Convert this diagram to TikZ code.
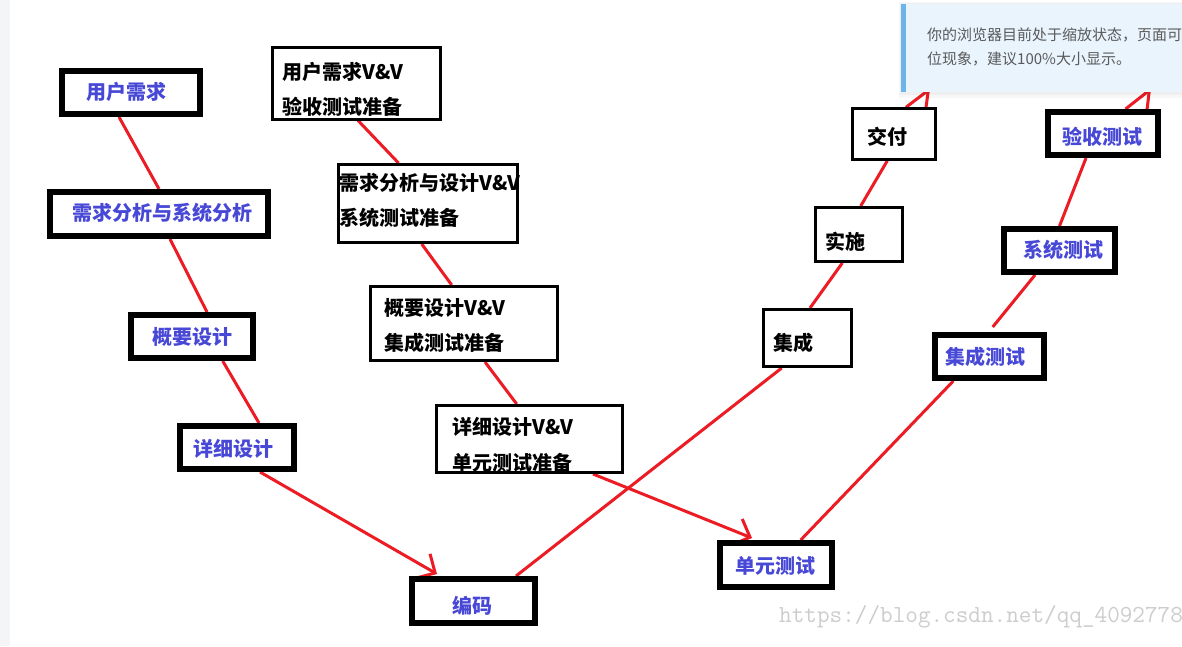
\documentclass[tikz,border=0pt]{standalone}
\usepackage{fontspec}
\setmainfont{Noto Sans CJK SC}
\usetikzlibrary{arrows.meta}
\definecolor{vred}{RGB}{237,28,36}
\definecolor{vblue}{RGB}{72,72,215}
\definecolor{notebg}{RGB}{233,244,253}
\definecolor{notebar}{RGB}{110,179,234}
\definecolor{notetxt}{RGB}{90,90,90}
\definecolor{wmark}{RGB}{205,205,205}
\definecolor{stripgray}{RGB}{244,245,247}
\pgfdeclarelayer{back}
\pgfdeclarelayer{lines}
\pgfsetlayers{back,lines,main}
\tikzset{
  thickbox/.style={draw=black, line width=6pt, fill=white, inner sep=0pt, rectangle},
  thinbox/.style={draw=black, line width=3pt, fill=white, inner sep=0pt, rectangle},
  bluelabel/.style={text=vblue, font=\fontsize{20}{24}\selectfont\bfseries, inner sep=0pt},
  blacklabel/.style={text=black, font=\fontsize{20}{35}\selectfont\bfseries, inner sep=0pt, anchor=west, align=left},
  link/.style={draw=vred, line width=3pt},
  linkarrow/.style={link, -{Straight Barb[length=14pt,width=28pt]}},
  notetext/.style={text=notetxt, font=\fontsize{15}{18}\selectfont, inner sep=0pt, anchor=west},
}
\begin{document}
\begin{tikzpicture}[x=1pt,y=-1pt]
\useasboundingbox (0,0) rectangle (1182,646);
\clip (0,0) rectangle (1182,646);
\begin{pgfonlayer}{back}
  \fill[white] (0,0) rectangle (1182,646);
  \fill[stripgray] (0,0) rectangle (10,646);
\end{pgfonlayer}

% left branch: development
\node[thickbox, minimum width=138pt, minimum height=43pt] (u1) at (131,92.5) {};
\node[thickbox, minimum width=218pt, minimum height=44pt] (u2) at (159,214) {};
\node[thickbox, minimum width=122pt, minimum height=43pt] (u3) at (192,336.5) {};
\node[thickbox, minimum width=114pt, minimum height=43pt] (u4) at (237,447.5) {};
\node[thickbox, minimum width=123pt, minimum height=44pt] (u5) at (473.5,601) {};
\node[thickbox, minimum width=112pt, minimum height=44pt] (u6) at (776,565) {};
\node[thickbox, minimum width=109pt, minimum height=43pt] (u7) at (989.5,356.5) {};
\node[thickbox, minimum width=111pt, minimum height=43pt] (u8) at (1059.5,250.5) {};
\node[thickbox, minimum width=110pt, minimum height=43pt] (u9) at (1103,133.5) {};

\node[bluelabel] (t1) at (126.5,92) {用户需求};
\node[bluelabel] (t2) at (162.5,213) {需求分析与系统分析};
\node[bluelabel] (t3) at (192,336.7) {概要设计};
\node[bluelabel] (t4) at (233.5,449.3) {详细设计};
\node[bluelabel] (t5) at (472,606) {编码};
\node[bluelabel] (t6) at (775.5,566) {单元测试};
\node[bluelabel] (t7) at (985.3,357) {集成测试};
\node[bluelabel] (t8) at (1063.7,249.5) {系统测试};
\node[bluelabel] (t9) at (1102.7,137) {验收测试};

% V&V boxes
\node[thinbox, minimum width=168pt, minimum height=72pt] (bA) at (356,83) {};
\node[thinbox, minimum width=178.5pt, minimum height=78pt] (bB) at (428,203.5) {};
\node[thinbox, minimum width=187pt, minimum height=74pt] (bC) at (464,323.5) {};
\node[thinbox, minimum width=186pt, minimum height=67pt] (bD) at (529.5,439) {};
\node[thinbox, minimum width=88pt, minimum height=57pt] (bE) at (807.5,338) {};
\node[thinbox, minimum width=87pt, minimum height=54pt] (bF) at (859,234.5) {};
\node[thinbox, minimum width=83pt, minimum height=50.5pt] (bG) at (893.5,134) {};

\node[blacklabel] (tA) at (282,89.2) {用户需求V\&V\\验收测试准备};
\node[blacklabel] (tB) at (339,200.5) {需求分析与设计V\&V\\系统测试准备};
\node[blacklabel] (tC) at (384,325.5) {概要设计V\&V\\集成测试准备};
\node[blacklabel, font=\fontsize{20}{36}\selectfont\bfseries] (tD) at (452,444.7) {详细设计V\&V\\单元测试准备};
\node[blacklabel] (tE) at (773,343) {集成};
\node[blacklabel] (tF) at (825,242) {实施};
\node[blacklabel] (tG) at (867,137) {交付};

\coordinate (topG) at (930,89);
\coordinate (top9) at (1151,89);

\begin{pgfonlayer}{lines}
  \draw[link] ([xshift=-12pt]u1.south) -- (u2.north);
  \draw[link] ([xshift=11pt]u2.south) -- ([xshift=15pt]u3.north);
  \draw[link] ([xshift=30.7pt]u3.south) -- ([xshift=22pt]u4.north);
  \draw[linkarrow] ([xshift=23pt]u4.south) -- ([xshift=-36.5pt,yshift=2pt]u5.north);
  \draw[link] ([xshift=2pt]bA.south) -- ([xshift=-29.5pt]bB.north);
  \draw[link] ([xshift=-6.3pt]bB.south) -- ([xshift=-12.3pt]bC.north);
  \draw[link] ([xshift=21pt]bC.south) -- ([xshift=-12.8pt]bD.north);
  \draw[linkarrow] ([xshift=63.5pt]bD.south) -- ([xshift=-24pt,yshift=2pt]u6.north);
  \draw[link] ([xshift=42.5pt]u5.north) -- ([xshift=-25.8pt]bE.south);
  \draw[link] ([xshift=2.5pt]bE.north) -- ([xshift=-16.7pt]bF.south);
  \draw[link] ([xshift=1.7pt]bF.north) -- ([xshift=-6.2pt]bG.south);
  \draw[linkarrow] ([xshift=12.5pt]bG.north) -- (topG);
  \draw[link] ([xshift=24.7pt]u6.north) -- ([xshift=-36.2pt]u7.south);
  \draw[link] ([xshift=3.2pt,yshift=5pt]u7.north) -- ([xshift=-24.5pt]u8.south);
  \draw[link] (u8.north) -- ([xshift=-17pt]u9.south);
  \draw[linkarrow] ([xshift=22.5pt]u9.north) -- (top9);
\end{pgfonlayer}

% browser notification
\fill[black, opacity=0.03] (899,2) rectangle (1182,98);
\fill[black, opacity=0.03] (900,3) rectangle (1182,95);
\fill[notebg] (901,4) rectangle (1182,92);
\fill[notebar] (901,4) rectangle (906,92);
\node[notetext] (n1) at (927,35) {你的浏览器目前处于缩放状态，页面可能会出现错};
\node[notetext] (n2) at (927,59) {位现象，建议100\%大小显示。};

% watermark
\node[text=wmark, font=\fontsize{24.5}{27}\ttfamily, inner sep=0pt, anchor=base west] (wm) at (779,622) {https://blog.csdn.net/qq\_40927789};
\end{tikzpicture}
\end{document}
